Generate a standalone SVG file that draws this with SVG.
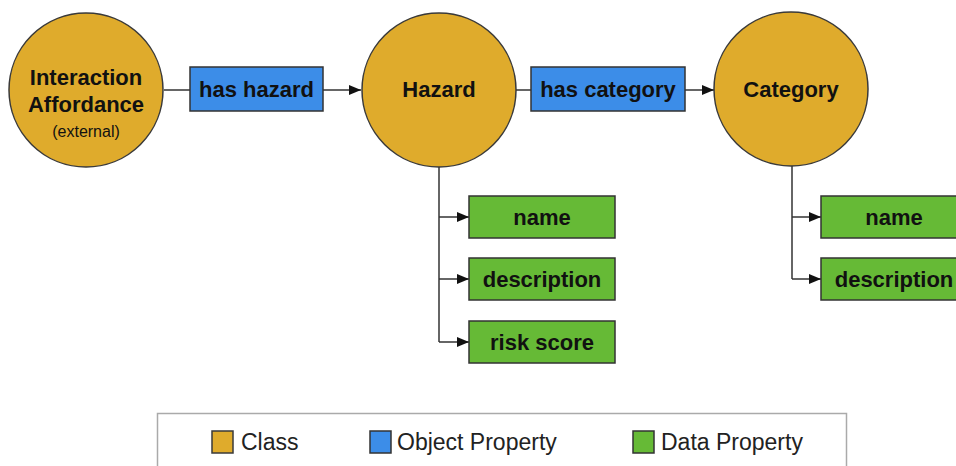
<svg xmlns="http://www.w3.org/2000/svg" width="956" height="466" viewBox="0 0 956 466">
<defs>
<marker id="arr" markerWidth="12" markerHeight="10" refX="12" refY="5" orient="auto" markerUnits="userSpaceOnUse">
<path d="M0,0 L12,5 L0,10 Z" fill="#111"/>
</marker>
<style>
.cls{fill:#DFAB2C;stroke:#3a3a3a;stroke-width:1.5}
.obj{fill:#3C8DE8;stroke:#333;stroke-width:1.5}
.dat{fill:#66BA36;stroke:#333;stroke-width:1.5}
.t{font-family:"Liberation Sans",Arial,sans-serif;font-weight:bold;font-size:22px;fill:#111;text-anchor:middle}
.s{font-family:"Liberation Sans",Arial,sans-serif;font-size:16px;fill:#111;text-anchor:middle}
.lg{font-family:"Liberation Sans",Arial,sans-serif;font-size:23px;fill:#222}
.c{fill:none;stroke:#333;stroke-width:1.5}
</style>
</defs>
<rect width="956" height="466" fill="#fff"/>
<g id="connectors">
<line class="c" x1="164" y1="90" x2="190" y2="90"/>
<line class="c" x1="323" y1="90" x2="361" y2="90" marker-end="url(#arr)"/>
<line class="c" x1="516" y1="90" x2="531" y2="90"/>
<line class="c" x1="685" y1="90" x2="714" y2="90" marker-end="url(#arr)"/>
<path class="c" d="M439,167 V342"/>
<line class="c" x1="439" y1="217" x2="469" y2="217" marker-end="url(#arr)"/>
<line class="c" x1="439" y1="279" x2="469" y2="279" marker-end="url(#arr)"/>
<line class="c" x1="439" y1="342" x2="469" y2="342" marker-end="url(#arr)"/>
<path class="c" d="M792,166 V279"/>
<line class="c" x1="792" y1="217" x2="821" y2="217" marker-end="url(#arr)"/>
<line class="c" x1="792" y1="279" x2="821" y2="279" marker-end="url(#arr)"/>
</g>
<g id="interaction-affordance">
<circle class="cls" cx="86" cy="90" r="77"/>
<text class="t" x="86" y="85">Interaction</text>
<text class="t" x="86" y="112">Affordance</text>
<text class="s" x="86" y="137">(external)</text>
</g>
<g id="has-hazard">
<rect class="obj" x="190" y="67" width="133" height="44"/>
<text class="t" x="256.5" y="97">has hazard</text>
</g>
<g id="hazard">
<circle class="cls" cx="439" cy="90" r="77"/>
<text class="t" x="439" y="97">Hazard</text>
</g>
<g id="has-category">
<rect class="obj" x="531" y="67" width="154" height="44"/>
<text class="t" x="608" y="97">has category</text>
</g>
<g id="category">
<circle class="cls" cx="791" cy="89" r="77"/>
<text class="t" x="791" y="97">Category</text>
</g>
<g id="hazard-name">
<rect class="dat" x="469" y="196" width="146" height="42"/>
<text class="t" x="542" y="225">name</text>
</g>
<g id="hazard-description">
<rect class="dat" x="469" y="258" width="146" height="42"/>
<text class="t" x="542" y="287">description</text>
</g>
<g id="hazard-risk-score">
<rect class="dat" x="469" y="321" width="146" height="42"/>
<text class="t" x="542" y="350">risk score</text>
</g>
<g id="category-name">
<rect class="dat" x="821" y="196" width="146" height="42"/>
<text class="t" x="894" y="225">name</text>
</g>
<g id="category-description">
<rect class="dat" x="821" y="258" width="146" height="42"/>
<text class="t" x="894" y="287">description</text>
</g>
<g id="legend">
<rect x="157.5" y="413.5" width="689" height="60" fill="#fff" stroke="#aaa" stroke-width="1.5"/>
<rect class="cls" x="212" y="431" width="21" height="22"/>
<text class="lg" x="241" y="450">Class</text>
<rect class="obj" x="370" y="431" width="21" height="22"/>
<text class="lg" x="397" y="450">Object Property</text>
<rect class="dat" x="633" y="431" width="21" height="22"/>
<text class="lg" x="661" y="450">Data Property</text>
</g>
</svg>
